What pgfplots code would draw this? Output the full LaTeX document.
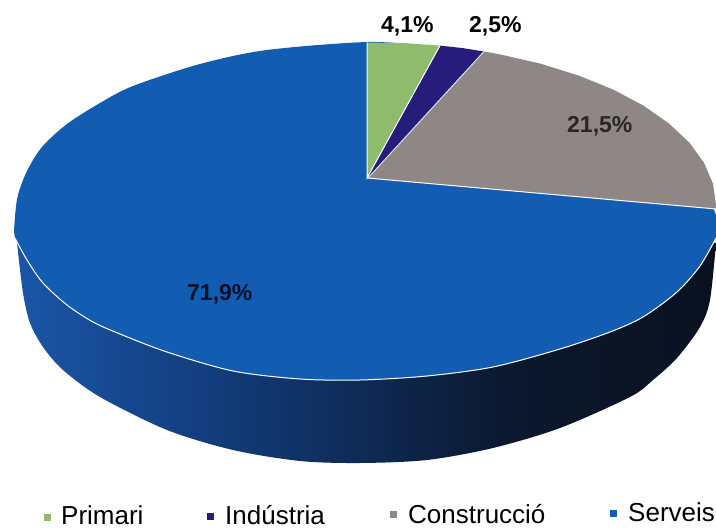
\documentclass[border=0pt]{standalone}
\usepackage{fontspec}
\setmainfont{Liberation Sans}
\usepackage{pgfplots}
\pgfplotsset{compat=1.18}
\definecolor{cgreen}{HTML}{8FBB6C}
\definecolor{cnavy}{HTML}{261C7C}
\definecolor{cgray}{HTML}{8F8686}
\definecolor{cblue}{HTML}{125CB2}
\definecolor{sa}{HTML}{1A56A8}
\definecolor{sb}{HTML}{144082}
\definecolor{sc}{HTML}{0E2A55}
\definecolor{sd}{HTML}{0B182E}
\definecolor{se}{HTML}{0A1220}
\pgfdeclarehorizontalshading{sideshade}{100bp}{
  color(0bp)=(sa);
  color(25bp)=(sa);
  color(37bp)=(sb);
  color(50bp)=(sc);
  color(60bp)=(sd);
  color(75bp)=(se);
  color(100bp)=(se)}
\begin{document}
\begin{tikzpicture}
\path[use as bounding box] (0,0) rectangle (716pt,529pt);
\begin{axis}[
  at={(0pt,0pt)}, anchor=south west,
  scale only axis, width=716pt, height=529pt,
  xmin=0, xmax=716, ymin=0, ymax=529, y dir=reverse,
  axis lines=none, clip=true]
% side of the disc
\addplot[smooth, draw=none, shading=sideshade] coordinates {
 (15,225) (17,243) (23,293) (30,323) (43,347) (63,370) (100,397) (167,430) (233,450) (300,461) (360,463)
 (427,460) (493,448) (560,428) (630,397) (653,380) (677,358) (700,327) (710,300) (716,243)};
% Serveis (whole top rim, other slices laid on it)
\addplot[smooth, draw=none, fill=cblue] coordinates {
 (430,46) (368,42) (267,50) (200,64) (133,86) (100,103) (67,124) (42,147) (27,171) (18,195) (15,217) (15,238)
 (27,260) (43,283) (67,305) (93,322) (120,334) (167,352) (233,371) (300,379) (360,380) (427,376) (493,367)
 (560,349) (610,332) (643,317) (677,292) (700,266) (716,238) (716,215) (690,170) (600,100) (430,46)};
% Primari
\addplot[draw=none, fill=cgreen] coordinates {(367,178) (367,42.5) (404,43.2) (440,45.6) (367,178)};
% Industria
\addplot[draw=none, fill=cnavy] coordinates {(368,178) (440,45.6) (462,48) (484,51.5) (368,178)};
% Construccio
\addplot[draw=none, fill=cgray] coordinates {(368,178) (484,51.5) (500,54.4) (541,63.8) (579,75.7)
 (613.5,89.7) (643.7,105.8) (669,123.5) (689.4,142.6) (704,162.8) (713,183.7) (716,205) (716,209) (368,178)};
% white separators
\addplot[white, line width=1pt] coordinates {(367,42.5) (367,178) (440,45.6)};
\addplot[white!85!cnavy, line width=1pt] coordinates {(368,178) (484,51.5)};
\addplot[white, line width=1pt] coordinates {(367,178) (716,209)};
\addplot[smooth, white, line width=1pt] coordinates {
 (15,238) (27,260) (43,283) (67,305) (93,322) (120,334) (167,352) (233,371) (300,379) (360,380) (427,376) (493,367)
 (560,349) (610,332) (643,317) (677,292) (700,266) (716,238)};
% legend keys
\addplot[only marks, mark=square*, mark size=3pt, mark options={draw=cgreen, fill=cgreen}] coordinates {(47,517)};
\addplot[only marks, mark=square*, mark size=3pt, mark options={draw=cnavy, fill=cnavy}] coordinates {(210.5,516)};
\addplot[only marks, mark=square*, mark size=3pt, mark options={draw=cgray, fill=cgray}] coordinates {(393.5,514)};
\addplot[only marks, mark=square*, mark size=3pt, mark options={draw=cblue, fill=cblue}] coordinates {(613.5,513)};
% labels
\newcommand{\lab}{\fontsize{23}{23}\selectfont\bfseries}
\newcommand{\leg}{\fontsize{26}{26}\selectfont}
\node[anchor=base west, inner sep=0pt, text=black] at (axis cs:381,33) {\lab 4,1\%};
\node[anchor=base west, inner sep=0pt, text=black] at (axis cs:469,33) {\lab 2,5\%};
\node[anchor=base west, inner sep=0pt, text=black!85] at (axis cs:567,133) {\lab 21,5\%};
\node[anchor=base west, inner sep=0pt, text=black!80!cblue] at (axis cs:187,301) {\lab 71,9\%};
\node[anchor=base west, inner sep=0pt] at (axis cs:61,525) {\leg Primari};
\node[anchor=base west, inner sep=0pt] at (axis cs:225,525) {\leg Indústria};
\node[anchor=base west, inner sep=0pt] at (axis cs:408,523.5) {\leg Construcció};
\node[anchor=base west, inner sep=0pt] at (axis cs:628,522) {\leg Serveis};
\end{axis}
\end{tikzpicture}
\end{document}
